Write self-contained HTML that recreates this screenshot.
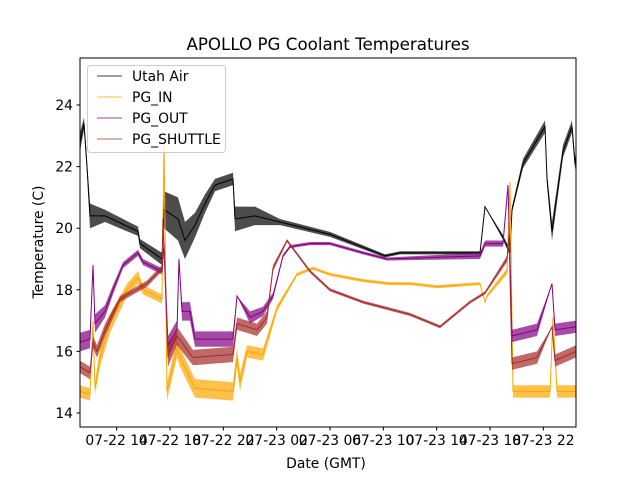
<!DOCTYPE html>
<html><head><meta charset="utf-8"><style>
body{margin:0;background:#fff}
svg{display:block;font-family:"DejaVu Sans","Liberation Sans",sans-serif}
</style></head><body>
<svg id="chart" width="640" height="480" xmlns="http://www.w3.org/2000/svg">
<rect width="640" height="480" fill="#fff"/>
<text x="328" y="50" font-size="16.7" text-anchor="middle">APOLLO PG Coolant Temperatures</text>
<g id="plot"></g>
<g id="axes"></g>
<text x="326" y="468" font-size="13.9" text-anchor="middle">Date (GMT)</text>
<text transform="translate(43,242) rotate(-90)" font-size="13.9" text-anchor="middle">Temperature (C)</text>
<g>
<rect x="87.5" y="65.5" width="138" height="87" rx="3" fill="#fff" fill-opacity="0.8" stroke="#ccc"/>
<line x1="97" x2="122" y1="76" y2="76" stroke="#000" stroke-width="0.8"/>
<text x="132" y="81" font-size="13.9">Utah Air</text>
<line x1="97" x2="122" y1="97" y2="97" stroke="orange" stroke-width="0.8"/>
<text x="132" y="102" font-size="13.9">PG_IN</text>
<line x1="97" x2="122" y1="118" y2="118" stroke="purple" stroke-width="0.8"/>
<text x="132" y="123" font-size="13.9">PG_OUT</text>
<line x1="97" x2="122" y1="139" y2="139" stroke="brown" stroke-width="0.8"/>
<text x="132" y="144" font-size="13.9">PG_SHUTTLE</text>
</g>
</svg>
<script>
// time in hours since 07-22 00:00 GMT
const xTickHours=[14,18,22,26,30,34,38,42,46];
const xTickLabels=["07-22 14","07-22 18","07-22 22","07-23 02","07-23 06","07-23 10","07-23 14","07-23 18","07-23 22"];
const yTicks=[14,16,18,20,22,24];
const airT=[11.25,11.55,11.775,12.0,13.125,15.6,15.75,17.4,17.55,18.6,19.125,19.875,20.625,21.375,22.725,22.875,24.375,26.25,30.0,34.125,35.25,41.25,41.625,42.975,43.5,43.65,44.475,46.125,46.275,46.65,47.475,48.15,48.375,48.45];
const airV=[22.8,23.4,22.0,20.4,20.4,19.9,19.5,19.0,20.6,20.3,19.6,20.1,20.8,21.4,21.6,20.3,20.4,20.2,19.8,19.1,19.2,19.2,20.7,19.7,19.2,20.6,22.1,23.3,21.6,19.9,22.5,23.3,22.1,22.3];
const airA=[0.3,0.2,0.2,0.4,0.2,0.15,0.15,0.2,0.6,0.7,0.6,0.4,0.3,0.2,0.2,0.4,0.3,0.1,0.08,0.05,0.05,0.05,0,0.08,0.1,0.1,0.15,0.2,0.2,0.3,0.2,0.2,0.2,0.2];
const inT=[11.25,12.0,12.225,12.375,12.75,13.5,14.775,15.6,15.975,17.4,17.55,17.775,18.525,18.75,19.875,22.725,23.025,23.25,23.775,24.975,26.025,27.525,28.725,30.0,32.475,34.5,36.0,38.025,41.25,41.625,41.775,43.275,43.5,43.725,46.5,46.725,47.025,48.45];
const inV=[14.7,14.6,17.0,14.8,15.8,16.9,18.0,18.4,18.0,17.7,22.8,14.7,16.1,15.8,14.8,14.7,15.8,15.0,16.0,15.9,17.4,18.5,18.7,18.5,18.3,18.2,18.2,18.1,18.2,17.6,17.8,18.6,21.5,14.7,14.7,17.1,14.7,14.7];
const inA=[0.2,0.2,0,0.2,0.3,0.3,0.2,0.2,0.15,0.15,0,0.3,0.3,0.3,0.3,0.3,0.3,0.3,0.2,0.2,0.1,0.05,0.05,0.05,0.05,0.05,0.05,0.05,0.05,0,0.05,0.1,0,0.2,0.2,0,0.2,0.2];
const outT=[11.25,12.0,12.225,12.375,13.125,13.725,14.475,15.6,15.975,17.4,17.55,17.85,18.525,18.675,18.9,19.5,19.875,22.725,23.025,24.0,24.975,25.725,26.475,27.0,28.5,30.0,32.475,34.275,41.25,41.625,42.975,43.35,43.65,45.525,46.65,46.875,48.45];
const outV=[16.3,16.4,18.8,16.9,17.3,18.0,18.8,19.2,18.9,18.6,19.5,16.2,16.7,19.0,17.3,17.3,16.4,16.4,17.8,17.1,17.3,17.8,19.1,19.4,19.5,19.5,19.2,19.0,19.1,19.5,19.5,21.4,16.5,16.7,18.2,16.7,16.8];
const outA=[0.3,0.3,0,0.3,0.2,0.15,0.1,0.1,0.1,0.1,0,0.3,0.3,0,0.3,0.3,0.25,0.25,0,0.2,0.15,0.1,0.05,0.05,0.05,0.05,0.05,0.05,0.1,0.1,0.1,0,0.2,0.2,0,0.2,0.2];
const shT=[11.25,12.0,12.225,12.525,13.125,14.25,16.275,17.4,17.475,17.85,18.525,19.725,22.725,23.025,24.525,25.275,25.725,26.775,28.5,30.0,32.475,36.0,38.25,40.5,41.625,43.275,43.425,43.65,45.525,46.65,46.875,48.45];
const shV=[15.5,15.3,16.3,16.0,16.7,17.7,18.2,18.7,20.3,15.8,16.5,15.8,15.9,16.9,16.7,17.1,18.7,19.6,18.6,18.0,17.6,17.2,16.8,17.6,17.9,19.0,19.8,15.6,15.8,16.8,15.7,16.0];
const shA=[0.2,0.2,0.2,0.2,0.2,0.1,0.1,0.1,0,0.3,0.3,0.25,0.25,0.2,0.2,0.2,0.1,0.05,0.05,0.05,0.05,0.05,0.05,0.05,0.05,0.1,0,0.2,0.2,0,0.2,0.2];

const L=80,R=576,T=58,B=427;
const x0=11.25,x1=48.45,y0=13.545,y1=25.526;
const sx=h=>L+(h-x0)/(x1-x0)*(R-L);
const sy=v=>B-(v-y0)/(y1-y0)*(B-T);
const NS="http://www.w3.org/2000/svg";
const plot=document.getElementById('plot'),axes=document.getElementById('axes');
function mk(tag,attrs,parent){const e=document.createElementNS(NS,tag);for(const k in attrs)e.setAttribute(k,attrs[k]);parent.appendChild(e);return e;}
function series(ts,vs,as,color,name){
  const g=mk('g',{},plot);
  
  
  let top=ts.map((t,i)=>sx(t)+','+sy(vs[i]+as[i]));
  let bot=ts.map((t,i)=>sx(t)+','+sy(vs[i]-as[i])).reverse();
  const band=mk('polygon',{points:top.concat(bot).join(' '),fill:color,'fill-opacity':0.7},g);
  
  
  const ln=mk('polyline',{points:ts.map((t,i)=>sx(t)+','+sy(vs[i])).join(' '),fill:'none',stroke:color,'stroke-width':1},g);
  
  
}
series(airT,airV,airA,'#000','utah-air-series');
series(inT,inV,inA,'orange','pg-in-series');
series(outT,outV,outA,'purple','pg-out-series');
series(shT,shV,shA,'brown','pg-shuttle-series');
const frame=mk('rect',{x:L,y:T,width:R-L,height:B-T,fill:'none',stroke:'#000','stroke-width':1},axes);


yTicks.forEach(v=>{
  const y=sy(v);
  mk('line',{x1:L-3.5,x2:L,y1:y,y2:y,stroke:'#000'},axes);
  const t=mk('text',{x:L-7,y:y+5,'font-size':13.9,'text-anchor':'end'},axes);
  t.textContent=v;
  
  
});
xTickHours.forEach((h,i)=>{
  const x=sx(h);
  mk('line',{x1:x,x2:x,y1:B,y2:B+3.5,stroke:'#000'},axes);
  const t=mk('text',{x:x,y:B+18,'font-size':13.9,'text-anchor':'middle'},axes);
  t.textContent=xTickLabels[i];
  
  
});
</script>
</body></html>
